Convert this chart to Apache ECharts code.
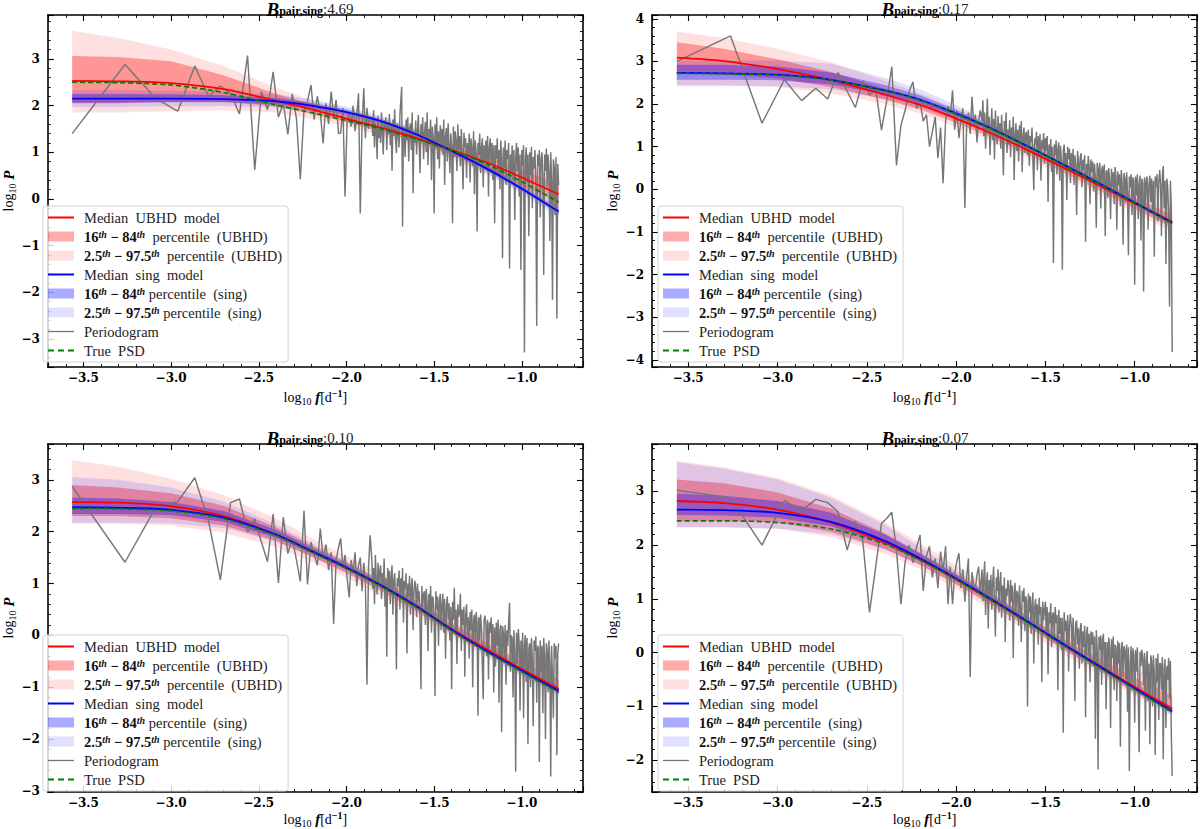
<!DOCTYPE html>
<html>
<head>
<meta charset="utf-8">
<script src="https://cdn.jsdelivr.net/npm/echarts@6/dist/echarts.min.js"></script>
<style>
  html, body { margin: 0; padding: 0; background: #fff; }
  #chart { width: 1200px; height: 829px; }
</style>
</head>
<body>
<div id="chart"></div>
<script>
// log10 f of the periodogram points (shared by all four panels)
const perX = [
  -3.564,-3.263,-3.087,-2.962,-2.865,-2.786,-2.719,-2.661,-2.610,-2.564,
  -2.523,-2.485,-2.450,-2.418,-2.388,-2.360,-2.334,-2.309,-2.285,-2.263,
  -2.242,-2.222,-2.202,-2.184,-2.166,-2.149,-2.133,-2.117,-2.102,-2.087,
  -2.073,-2.059,-2.045,-2.033,-2.020,-2.008,-1.996,-1.984,-1.973,-1.962,
  -1.951,-1.941,-1.931,-1.921,-1.911,-1.901,-1.892,-1.883,-1.874,-1.865,
  -1.855,-1.850,-1.845,-1.840,-1.835,-1.830,-1.825,-1.820,-1.815,-1.810,
  -1.805,-1.800,-1.795,-1.790,-1.785,-1.780,-1.775,-1.770,-1.765,-1.760,
  -1.755,-1.750,-1.745,-1.740,-1.735,-1.730,-1.725,-1.720,-1.715,-1.710,
  -1.705,-1.700,-1.695,-1.690,-1.685,-1.680,-1.675,-1.670,-1.665,-1.660,
  -1.655,-1.650,-1.645,-1.640,-1.635,-1.630,-1.625,-1.620,-1.615,-1.610,
  -1.605,-1.600,-1.595,-1.590,-1.585,-1.580,-1.575,-1.570,-1.565,-1.560,
  -1.555,-1.550,-1.545,-1.540,-1.535,-1.530,-1.525,-1.520,-1.515,-1.510,
  -1.505,-1.500,-1.495,-1.490,-1.485,-1.480,-1.475,-1.470,-1.465,-1.460,
  -1.455,-1.450,-1.445,-1.440,-1.435,-1.430,-1.425,-1.420,-1.415,-1.410,
  -1.405,-1.400,-1.395,-1.390,-1.385,-1.380,-1.375,-1.370,-1.365,-1.360,
  -1.355,-1.350,-1.345,-1.340,-1.335,-1.330,-1.325,-1.320,-1.315,-1.310,
  -1.305,-1.300,-1.295,-1.290,-1.285,-1.280,-1.275,-1.270,-1.265,-1.260,
  -1.255,-1.250,-1.245,-1.240,-1.235,-1.230,-1.225,-1.220,-1.215,-1.210,
  -1.205,-1.200,-1.195,-1.190,-1.185,-1.180,-1.175,-1.170,-1.165,-1.160,
  -1.155,-1.150,-1.145,-1.140,-1.135,-1.130,-1.125,-1.120,-1.115,-1.110,
  -1.105,-1.100,-1.095,-1.090,-1.085,-1.080,-1.075,-1.070,-1.065,-1.060,
  -1.055,-1.050,-1.045,-1.040,-1.035,-1.030,-1.025,-1.020,-1.015,-1.010,
  -1.005,-1.000,-0.995,-0.990,-0.985,-0.980,-0.975,-0.970,-0.965,-0.960,
  -0.955,-0.950,-0.945,-0.940,-0.935,-0.930,-0.925,-0.920,-0.915,-0.910,
  -0.905,-0.900,-0.895,-0.890,-0.885,-0.880,-0.875,-0.870,-0.865,-0.860,
  -0.855,-0.850,-0.845,-0.840,-0.835,-0.830,-0.825,-0.820,-0.815,-0.810,
  -0.805,-0.800,-0.795,-0.790
];

// log10 P of the periodogram, one array per panel
const tlPer = [
  1.40,2.88,2.15,1.88,2.85,2.20,2.42,2.26,1.82,3.07,
  0.62,2.30,1.91,2.72,1.75,2.05,1.38,2.25,1.72,0.42,
  1.90,2.10,2.44,1.70,2.20,1.85,1.19,2.05,1.60,2.30,
  1.75,2.12,1.40,1.41,1.95,0.05,1.70,1.85,1.55,2.00,
  1.45,1.80,2.26,-0.31,1.60,2.37,1.30,1.95,1.50,1.75,
  1.72,1.35,1.90,1.10,1.62,1.48,0.85,1.78,1.30,1.55,
  1.20,1.85,1.42,0.95,1.68,1.52,1.75,1.05,1.60,1.38,
  1.82,1.15,1.55,0.60,1.70,1.35,1.92,1.28,0.98,1.62,
  1.45,1.10,1.80,2.10,2.40,-0.59,1.55,1.30,0.90,1.70,
  1.25,1.75,0.80,1.50,1.62,1.05,1.85,0.12,1.40,1.20,
  1.68,0.95,1.45,1.80,1.15,0.55,1.60,1.30,1.75,0.85,
  1.40,1.65,1.00,1.85,0.72,1.50,1.25,1.70,0.40,1.55,
  1.30,-0.31,1.60,1.10,1.75,0.85,1.45,0.65,1.58,1.20,
  1.50,0.95,1.70,0.30,1.35,1.52,0.80,1.62,1.15,0.55,
  1.40,1.10,-0.52,1.55,0.90,1.45,1.25,0.60,1.60,1.05,
  1.35,0.70,1.50,0.95,0.20,1.42,1.10,1.30,0.45,1.20,
  0.85,1.40,0.35,1.30,1.05,0.70,1.45,0.10,1.25,0.95,
  -0.70,1.20,0.95,1.40,0.55,1.10,1.30,0.25,1.15,0.80,
  1.25,0.60,1.35,0.05,1.10,1.30,0.75,1.20,0.40,1.15,
  -0.52,1.15,0.85,1.30,0.50,1.05,0.20,1.25,0.90,-1.27,
  1.10,0.65,1.25,0.30,1.05,0.85,1.20,-1.49,0.95,0.55,
  1.15,0.40,1.05,-0.45,0.90,1.20,0.60,1.10,0.05,0.95,
  -1.52,1.05,0.70,1.15,-3.29,0.85,1.10,0.35,0.95,-0.80,
  1.00,0.50,1.12,-0.20,0.90,0.65,1.05,0.30,-2.72,0.95,
  0.70,1.05,-0.40,0.85,1.00,0.45,-1.63,0.95,0.60,1.08,
  0.25,0.95,0.60,-0.90,1.00,0.40,-2.16,0.85,0.70,-0.35,
  0.90,-2.56,0.75,0.30
];
const trPer = [
  3.00,3.60,1.55,2.57,2.08,2.37,2.12,2.74,2.30,1.92,
  2.54,2.22,2.35,1.39,2.10,2.88,0.56,1.50,1.86,2.30,
  2.52,1.90,2.05,1.60,1.75,1.00,1.35,1.70,0.73,1.45,
  0.14,1.60,1.95,1.70,2.32,1.40,1.85,1.20,1.65,1.90,
  -0.44,1.55,1.80,1.30,2.17,1.50,1.75,1.10,1.60,1.85,
  1.60,2.09,1.25,1.80,0.95,1.55,2.13,1.30,1.70,0.80,
  1.45,1.90,1.15,1.65,0.70,1.85,1.35,1.05,1.72,1.20,
  1.55,0.95,1.75,1.10,0.33,1.60,1.25,1.80,0.85,1.40,
  1.05,1.62,0.75,1.45,1.15,1.70,0.22,1.30,1.55,0.90,
  1.40,0.65,1.50,1.05,1.60,0.40,1.25,1.45,0.85,1.30,
  1.35,0.80,1.40,0.55,1.25,1.10,1.45,0.70,-0.02,1.20,
  1.05,1.35,0.45,1.25,0.80,1.30,0.20,1.15,0.95,1.32,
  0.60,1.20,0.90,1.25,-0.30,1.05,0.75,1.18,0.40,1.00,
  -1.73,1.05,0.80,1.15,0.35,0.95,1.10,0.20,1.02,0.60,
  -1.89,0.90,1.05,0.45,0.85,-0.25,1.00,0.70,0.95,0.15,
  0.85,0.40,0.95,0.10,0.80,0.55,-0.60,0.90,0.65,0.30,
  0.75,0.85,0.05,0.70,0.45,0.80,-1.23,0.60,0.20,0.78,
  0.55,-0.35,0.70,0.40,0.65,-0.05,0.60,0.25,-0.90,0.62,
  0.50,0.10,0.62,-0.45,0.45,0.55,0.00,0.58,-1.10,0.40,
  0.45,-0.20,0.50,0.20,-0.70,0.48,0.05,0.40,-0.35,0.52,
  0.30,-0.95,0.42,0.10,0.35,-0.40,0.45,0.15,-1.30,0.38,
  0.25,-0.30,0.40,-0.10,-1.55,0.30,0.05,0.35,-0.60,0.28,
  0.20,-2.24,0.30,-0.15,0.35,-0.70,0.10,0.32,-1.20,0.25,
  0.15,-2.40,0.28,-0.40,0.20,0.30,-0.95,0.10,0.32,-0.30,
  0.25,-0.50,0.20,-1.58,0.30,0.05,0.35,-0.75,0.18,0.45,
  0.10,-1.10,0.30,0.55,-0.45,0.20,-1.75,0.25,0.05,-0.60,
  -2.75,0.20,-0.40,-3.82
];
const blPer = [
  2.87,1.41,2.47,2.58,3.04,2.20,1.07,2.56,2.63,1.99,
  2.25,1.80,1.42,2.34,1.01,2.28,1.58,1.87,1.45,1.04,
  2.40,0.98,1.80,1.55,1.35,2.06,1.50,1.75,1.26,1.60,
  0.22,1.45,1.70,1.87,1.30,1.55,1.10,0.73,1.45,1.20,
  1.60,0.95,1.35,1.50,0.85,1.40,1.05,-0.95,1.30,1.93,
  1.45,0.90,1.30,0.60,1.55,1.05,0.79,1.40,0.95,1.25,
  1.35,0.70,1.20,0.95,1.48,0.55,1.10,-0.41,1.30,0.85,
  1.25,0.60,1.15,1.35,0.40,1.05,1.20,0.75,-0.66,1.10,
  0.95,1.25,0.50,1.10,0.80,1.30,0.25,1.05,0.90,1.20,
  -0.35,1.00,0.75,1.15,0.40,0.95,1.10,0.10,0.85,1.05,
  0.90,0.35,1.00,0.65,0.85,0.15,-1.04,0.95,0.55,0.80,
  0.85,0.20,0.90,0.60,-0.30,0.80,0.45,0.95,0.05,0.75,
  0.70,0.35,-1.17,0.85,0.50,0.75,-0.20,0.65,0.80,0.10,
  0.60,0.80,0.05,0.70,-0.45,0.55,0.75,0.30,0.62,-0.10,
  0.55,-1.04,0.65,0.30,0.92,0.10,0.50,-0.55,0.60,0.35,
  0.45,0.80,-0.30,0.50,0.20,0.55,-0.80,0.40,0.60,0.00,
  0.35,-0.45,0.45,0.10,0.50,-1.00,0.30,0.40,-0.20,0.45,
  0.25,-1.55,0.35,-0.10,0.40,0.15,-0.60,-1.23,0.30,0.38,
  0.20,-0.40,0.30,-0.85,0.25,0.05,0.35,-0.30,0.22,-1.10,
  0.15,-0.60,0.25,-0.20,0.30,-1.30,0.10,0.20,-1.87,0.18,
  0.05,-0.50,0.20,-0.95,0.10,-0.20,0.25,0.63,-0.70,0.00,
  -0.05,-1.20,0.10,-0.30,-2.63,0.05,-0.55,0.12,-0.15,-1.45,
  -0.10,-0.70,0.05,-1.60,-0.20,0.00,-0.90,-0.05,-2.10,-0.25,
  -0.15,-1.00,-0.05,-0.45,-1.75,-0.10,-0.30,-0.02,-1.30,-0.20,
  -0.25,-2.44,-0.10,-0.70,-0.20,-1.50,-0.05,-0.40,-2.00,-0.15,
  -0.30,-1.10,-0.10,-0.55,-2.72,-0.20,-0.85,-1.60,-0.15,-0.45,
  -0.20,-2.31,-0.35,-0.16
];
const brPer = [
  3.02,2.88,2.00,2.83,2.64,2.85,2.79,2.62,1.91,2.45,
  2.10,0.75,1.60,2.40,2.50,2.61,1.90,0.90,1.70,2.00,
  1.67,1.95,2.19,1.15,1.80,1.98,1.40,1.75,1.20,1.88,
  1.50,1.98,0.90,1.60,0.90,1.45,1.70,1.85,1.20,1.55,
  0.95,1.40,1.75,-0.45,1.50,1.25,1.20,1.45,1.60,1.10,
  1.55,0.95,1.40,1.70,0.70,1.30,1.50,0.45,1.35,1.05,
  1.45,0.80,1.30,1.60,0.95,0.30,1.40,1.15,1.55,0.75,
  1.30,1.50,0.65,1.25,0.90,1.40,0.20,1.20,1.05,1.35,
  1.20,0.60,1.35,0.95,1.25,-0.10,1.10,1.30,0.70,1.15,
  1.10,0.50,1.25,0.85,0.20,1.15,0.95,1.20,0.40,1.05,
  0.95,-1.00,1.10,0.75,1.05,0.35,0.90,1.12,-0.20,0.85,
  1.00,0.45,0.90,0.15,1.02,0.70,0.85,-0.55,0.95,0.60,
  0.80,0.95,0.30,0.85,-0.40,0.75,0.55,0.92,0.10,0.70,
  0.75,0.20,0.85,0.55,0.70,-0.70,0.80,0.35,0.65,0.05,
  0.65,-1.49,0.75,0.40,0.60,0.10,0.70,-0.35,0.55,0.72,
  0.50,0.05,0.65,0.30,-0.90,0.55,0.60,0.15,0.45,-0.30,
  0.45,0.55,-0.20,0.40,0.10,0.50,-1.20,0.35,0.48,-0.05,
  0.35,-0.55,0.40,0.15,0.38,-0.25,0.30,-1.60,0.42,0.05,
  -2.17,0.30,0.05,0.32,-0.60,0.25,0.35,-0.30,0.20,-1.05,
  0.20,-0.35,0.28,0.10,-1.40,0.25,-0.10,0.30,-0.70,0.15,
  0.10,-0.90,0.22,-0.20,0.18,-1.75,0.05,0.20,-0.45,0.12,
  0.05,-0.50,0.15,-1.10,0.10,-2.20,-0.20,0.12,-0.65,0.08,
  -0.05,-1.30,0.05,-0.35,0.10,-0.80,-1.85,0.02,-0.25,0.06,
  -0.10,-0.60,0.00,-1.45,-0.15,0.03,-0.90,-0.20,-1.70,-0.05,
  -0.15,-1.00,-0.05,-0.40,-1.90,-0.10,-0.55,-0.02,-1.25,-0.20,
  -0.20,-0.70,-0.08,-1.98,-0.30,-0.12,-1.40,-0.25,-0.50,-0.10,
  -0.85,-0.15,-1.50,-2.29
];

// log10 f where the model curves were read
const modelX = [-3.564, -3.3, -3.0, -2.7, -2.4, -2.2, -2.0, -1.8, -1.6, -1.4, -1.2, -1.0, -0.79];

// top left, B = 4.69
const tlRedMed  = [2.53, 2.52, 2.48, 2.35, 2.10, 1.92, 1.72, 1.52, 1.30, 1.05, 0.78, 0.46, 0.10];
const tlRedLo68 = [2.05, 2.05, 2.08, 2.08, 1.98, 1.82, 1.64, 1.44, 1.21, 0.94, 0.64, 0.30, -0.10];
const tlRedHi68 = [3.06, 3.04, 2.95, 2.65, 2.25, 2.04, 1.82, 1.62, 1.40, 1.16, 0.92, 0.63, 0.32];
const tlRedLo95 = [1.85, 1.85, 1.88, 1.90, 1.85, 1.72, 1.55, 1.36, 1.13, 0.85, 0.54, 0.18, -0.25];
const tlRedHi95 = [3.60, 3.45, 3.20, 2.85, 2.38, 2.12, 1.90, 1.70, 1.48, 1.25, 1.02, 0.75, 0.48];
const tlBlueMed  = [2.15, 2.15, 2.15, 2.14, 2.09, 2.00, 1.86, 1.66, 1.38, 1.03, 0.65, 0.22, -0.27];
const tlBlueLo68 = [2.06, 2.06, 2.07, 2.07, 2.03, 1.94, 1.81, 1.61, 1.33, 0.98, 0.60, 0.17, -0.33];
const tlBlueHi68 = [2.25, 2.25, 2.24, 2.22, 2.16, 2.06, 1.92, 1.72, 1.44, 1.09, 0.71, 0.28, -0.21];
const tlBlueLo95 = [1.97, 1.97, 1.98, 1.99, 1.96, 1.88, 1.75, 1.55, 1.27, 0.92, 0.54, 0.11, -0.40];
const tlBlueHi95 = [2.33, 2.33, 2.32, 2.30, 2.24, 2.13, 1.98, 1.78, 1.50, 1.15, 0.77, 0.34, -0.14];
const tlTrue     = [2.50, 2.49, 2.44, 2.28, 2.01, 1.85, 1.68, 1.50, 1.28, 1.04, 0.75, 0.37, -0.07];

// top right, B = 0.17
const trRedMed  = [3.09, 3.01, 2.82, 2.56, 2.22, 1.98, 1.66, 1.31, 0.92, 0.51, 0.09, -0.33, -0.76];
const trRedLo68 = [2.72, 2.70, 2.60, 2.40, 2.10, 1.87, 1.56, 1.21, 0.82, 0.40, -0.03, -0.46, -0.90];
const trRedHi68 = [3.45, 3.30, 3.05, 2.75, 2.36, 2.09, 1.76, 1.41, 1.03, 0.63, 0.22, -0.19, -0.60];
const trRedLo95 = [2.45, 2.45, 2.40, 2.25, 2.00, 1.78, 1.47, 1.12, 0.73, 0.31, -0.12, -0.55, -1.00];
const trRedHi95 = [3.70, 3.55, 3.30, 2.98, 2.55, 2.25, 1.90, 1.52, 1.13, 0.72, 0.32, -0.08, -0.48];
const trBlueMed  = [2.73, 2.72, 2.69, 2.57, 2.32, 2.10, 1.78, 1.42, 1.01, 0.58, 0.14, -0.31, -0.79];
const trBlueLo68 = [2.57, 2.57, 2.56, 2.46, 2.23, 2.02, 1.71, 1.36, 0.96, 0.54, 0.10, -0.35, -0.83];
const trBlueHi68 = [2.92, 2.92, 2.88, 2.74, 2.45, 2.20, 1.86, 1.49, 1.07, 0.63, 0.18, -0.27, -0.75];
const trBlueLo95 = [2.42, 2.42, 2.42, 2.35, 2.12, 1.92, 1.63, 1.30, 0.91, 0.49, 0.06, -0.40, -0.88];
const trBlueHi95 = [3.02, 3.02, 3.02, 2.95, 2.62, 2.34, 1.98, 1.58, 1.14, 0.69, 0.24, -0.22, -0.70];
const trTrue     = [2.72, 2.71, 2.68, 2.56, 2.31, 2.09, 1.77, 1.41, 1.00, 0.57, 0.13, -0.32, -0.80];

// bottom left, B = 0.10
const blRedMed  = [2.57, 2.56, 2.49, 2.30, 1.94, 1.62, 1.30, 0.95, 0.55, 0.12, -0.27, -0.65, -1.03];
const blRedLo68 = [2.30, 2.30, 2.26, 2.12, 1.82, 1.52, 1.20, 0.85, 0.46, 0.04, -0.35, -0.74, -1.10];
const blRedHi68 = [2.90, 2.85, 2.74, 2.50, 2.08, 1.74, 1.41, 1.06, 0.67, 0.25, -0.14, -0.50, -0.85];
const blRedLo95 = [2.15, 2.15, 2.12, 1.98, 1.70, 1.42, 1.11, 0.76, 0.37, -0.04, -0.42, -0.80, -1.15];
const blRedHi95 = [3.38, 3.25, 3.02, 2.70, 2.25, 1.88, 1.53, 1.18, 0.80, 0.40, 0.03, -0.32, -0.62];
const blBlueMed  = [2.47, 2.46, 2.42, 2.27, 1.94, 1.63, 1.31, 0.96, 0.56, 0.11, -0.30, -0.68, -1.07];
const blBlueLo68 = [2.34, 2.34, 2.32, 2.19, 1.88, 1.58, 1.27, 0.92, 0.52, 0.07, -0.34, -0.72, -1.11];
const blBlueHi68 = [2.66, 2.64, 2.57, 2.40, 2.03, 1.70, 1.37, 1.01, 0.61, 0.16, -0.25, -0.63, -1.02];
const blBlueLo95 = [2.17, 2.17, 2.16, 2.07, 1.80, 1.52, 1.22, 0.87, 0.47, 0.02, -0.39, -0.77, -1.16];
const blBlueHi95 = [3.05, 3.00, 2.85, 2.58, 2.14, 1.78, 1.43, 1.07, 0.66, 0.21, -0.20, -0.58, -0.97];
const blTrue     = [2.45, 2.44, 2.40, 2.25, 1.92, 1.61, 1.29, 0.94, 0.54, 0.09, -0.32, -0.70, -1.10];

// bottom right, B = 0.07
const brRedMed  = [2.82, 2.78, 2.66, 2.42, 2.05, 1.73, 1.36, 0.97, 0.57, 0.15, -0.24, -0.64, -1.04];
const brRedLo68 = [2.45, 2.45, 2.42, 2.25, 1.93, 1.63, 1.27, 0.88, 0.48, 0.06, -0.33, -0.74, -1.10];
const brRedHi68 = [3.22, 3.15, 2.98, 2.68, 2.22, 1.86, 1.47, 1.08, 0.68, 0.27, -0.10, -0.47, -0.80];
const brRedLo95 = [2.33, 2.33, 2.30, 2.15, 1.84, 1.55, 1.19, 0.80, 0.40, -0.02, -0.41, -0.80, -1.15];
const brRedHi95 = [3.57, 3.45, 3.25, 2.92, 2.42, 2.03, 1.62, 1.22, 0.82, 0.42, 0.05, -0.30, -0.63];
const brBlueMed  = [2.66, 2.65, 2.60, 2.43, 2.08, 1.75, 1.38, 0.99, 0.58, 0.16, -0.25, -0.66, -1.09];
const brBlueLo68 = [2.56, 2.55, 2.51, 2.35, 2.02, 1.70, 1.34, 0.95, 0.54, 0.12, -0.29, -0.70, -1.13];
const brBlueHi68 = [2.96, 2.92, 2.82, 2.60, 2.20, 1.84, 1.45, 1.05, 0.63, 0.20, -0.21, -0.62, -1.05];
const brBlueLo95 = [2.33, 2.33, 2.31, 2.20, 1.92, 1.63, 1.28, 0.90, 0.49, 0.07, -0.34, -0.75, -1.18];
const brBlueHi95 = [3.54, 3.42, 3.22, 2.88, 2.38, 1.96, 1.53, 1.11, 0.68, 0.25, -0.16, -0.57, -1.00];
const brTrue     = [2.45, 2.45, 2.42, 2.30, 2.02, 1.72, 1.36, 0.97, 0.56, 0.14, -0.27, -0.68, -1.11];

const bayesFactors = ['4.69', '0.17', '0.10', '0.07'];
const yRanges = [[-3.60, 3.94], [-4.17, 4.09], [-3.02, 3.69], [-2.59, 3.88]];
const xRange = [-3.703, -0.651];

const panels = [
  { per: tlPer, rm: tlRedMed, rl68: tlRedLo68, rh68: tlRedHi68, rl95: tlRedLo95, rh95: tlRedHi95,
    bm: tlBlueMed, bl68: tlBlueLo68, bh68: tlBlueHi68, bl95: tlBlueLo95, bh95: tlBlueHi95, tr: tlTrue },
  { per: trPer, rm: trRedMed, rl68: trRedLo68, rh68: trRedHi68, rl95: trRedLo95, rh95: trRedHi95,
    bm: trBlueMed, bl68: trBlueLo68, bh68: trBlueHi68, bl95: trBlueLo95, bh95: trBlueHi95, tr: trTrue },
  { per: blPer, rm: blRedMed, rl68: blRedLo68, rh68: blRedHi68, rl95: blRedLo95, rh95: blRedHi95,
    bm: blBlueMed, bl68: blBlueLo68, bh68: blBlueHi68, bl95: blBlueLo95, bh95: blBlueHi95, tr: blTrue },
  { per: brPer, rm: brRedMed, rl68: brRedLo68, rh68: brRedHi68, rl95: brRedLo95, rh95: brRedHi95,
    bm: brBlueMed, bl68: brBlueLo68, bh68: brBlueHi68, bl95: brBlueLo95, bh95: brBlueHi95, tr: brTrue }
];

const grids = [
  { left: 37, top: 15, width: 546, height: 352 },
  { left: 652, top: 15, width: 546, height: 352 },
  { left: 37, top: 444, width: 546, height: 352 },
  { left: 652, top: 444, width: 546, height: 352 }
];

const FONT = 'Liberation Serif';
const TICKFONT = 'DejaVu Serif';
const NB = '\u00a0';

const N_RM = 'Median UBHD model';
const N_R68 = '16th-84th percentile (UBHD)';
const N_R95 = '2.5th-97.5th percentile (UBHD)';
const N_BM = 'Median sing model';
const N_B68 = '16th-84th percentile (sing)';
const N_B95 = '2.5th-97.5th percentile (sing)';
const N_PER = 'Periodogram';
const N_TRUE = 'True PSD';

const legendText = {};
legendText[N_RM] = '{t|Median' + NB + NB + 'UBHD' + NB + NB + 'model}';
legendText[N_R68] = '{b|16}{u|th}{b|' + NB + '\u2212' + NB + '84}{u|th}{t|' + NB + NB + 'percentile' + NB + NB + '(UBHD)}';
legendText[N_R95] = '{b|2.5}{u|th}{b|' + NB + '\u2212' + NB + '97.5}{u|th}{t|' + NB + NB + 'percentile' + NB + NB + '(UBHD)}';
legendText[N_BM] = '{t|Median' + NB + NB + 'sing' + NB + NB + 'model}';
legendText[N_B68] = '{b|16}{u|th}{b|' + NB + '\u2212' + NB + '84}{u|th}{t|' + NB + 'percentile' + NB + NB + '(sing)}';
legendText[N_B95] = '{b|2.5}{u|th}{b|' + NB + '\u2212' + NB + '97.5}{u|th}{t|' + NB + 'percentile' + NB + NB + '(sing)}';
legendText[N_PER] = '{t|Periodogram}';
legendText[N_TRUE] = '{t|True' + NB + NB + 'PSD}';

const lineIcon = 'path://M0,0H26V2H0Z';
const dashIcon = 'path://M0,0H6V2H0Z M10,0H16V2H10Z M20,0H26V2H20Z';
const legendItems = [
  { name: N_RM, icon: lineIcon },
  { name: N_R68, icon: 'rect' },
  { name: N_R95, icon: 'rect' },
  { name: N_BM, icon: lineIcon },
  { name: N_B68, icon: 'rect' },
  { name: N_B95, icon: 'rect' },
  { name: N_PER, icon: 'path://M0,0H26V1.3H0Z' },
  { name: N_TRUE, icon: dashIcon }
];

function fmtX(v) {
  if (Math.abs(v * 2 - Math.round(v * 2)) > 1e-6) return '';
  return (v < 0 ? '\u2212' : '') + Math.abs(v).toFixed(1);
}
function fmtY(v) {
  if (Math.abs(v - Math.round(v)) > 1e-6) return '';
  const r = Math.round(v);
  return (r < 0 ? '\u2212' : '') + Math.abs(r);
}

const nameRich = {
  n: { fontFamily: FONT, fontSize: 14, lineHeight: 18, color: '#000' },
  s: { fontFamily: FONT, fontSize: 10, lineHeight: 10, verticalAlign: 'bottom', color: '#000' },
  p: { fontFamily: FONT, fontSize: 10, fontWeight: 'bold', lineHeight: 10, verticalAlign: 'top', color: '#000' },
  i: { fontFamily: FONT, fontSize: 15, fontStyle: 'italic', fontWeight: 'bold', lineHeight: 18, color: '#000' }
};

function bandSeries(name, color, lo, hi, gi, z) {
  return {
    type: 'custom', name: name, xAxisIndex: gi * 2, yAxisIndex: gi * 2,
    z: z, silent: true, clip: true,
    itemStyle: { color: color },
    encode: { x: 0, y: [1, 2] },
    data: modelX.map((x, k) => [x, lo[k], hi[k]]),
    renderItem: function (params, api) {
      if (params.dataIndex !== 0) return null;
      const top = modelX.map((x, k) => api.coord([x, hi[k]]));
      const bot = modelX.map((x, k) => api.coord([x, lo[k]])).reverse();
      return { type: 'polygon', shape: { points: top.concat(bot) }, style: { fill: color } };
    }
  };
}

function lineSeries(name, xs, ys, gi, color, width, z, dashed) {
  return {
    type: 'line', name: name, xAxisIndex: gi * 2, yAxisIndex: gi * 2,
    z: z, silent: true, symbol: 'none', smooth: xs === modelX ? 0.3 : false,
    itemStyle: { color: color },
    lineStyle: { color: color, width: width, type: dashed ? [5, 3] : 'solid' },
    data: xs.map((x, k) => [x, ys[k]])
  };
}

const xAxes = [], yAxes = [], series = [], legends = [], graphics = [];
const axisTick = { inside: true, length: 6, lineStyle: { color: '#000', width: 1.1 } };
const minorTick = { show: true, splitNumber: 5, length: 3, lineStyle: { color: '#000', width: 0.9 } };
const axisLine = { onZero: false, lineStyle: { color: '#000', width: 1.6 } };
const labelStyle = { fontFamily: TICKFONT, fontSize: 12, fontWeight: 'bold', color: '#000' };

grids.forEach((g, i) => {
  const p = panels[i];
  const yr = yRanges[i];
  xAxes.push({
    gridIndex: i, type: 'value', position: 'bottom', min: xRange[0], max: xRange[1],
    splitNumber: 6, minInterval: 0.5, maxInterval: 0.5,
    axisLine, axisTick, minorTick, splitLine: { show: false },
    axisLabel: Object.assign({ margin: 5, formatter: fmtX }, labelStyle),
    name: '{n|log}{s|10}{i|' + NB + 'f}{n|[d}{p|\u22121}{n|]}',
    nameLocation: 'middle', nameGap: i < 2 ? 21 : 18,
    nameTextStyle: { rich: nameRich }
  });
  xAxes.push({
    gridIndex: i, type: 'value', position: 'top', min: xRange[0], max: xRange[1],
    splitNumber: 6, minInterval: 0.5, maxInterval: 0.5,
    axisLine, axisTick, minorTick, splitLine: { show: false }, axisLabel: { show: false }
  });
  yAxes.push({
    gridIndex: i, type: 'value', position: 'left', min: yr[0], max: yr[1],
    splitNumber: 7, minInterval: 1, maxInterval: 1,
    axisLine, axisTick, minorTick, splitLine: { show: false },
    axisLabel: Object.assign({ margin: 8, formatter: fmtY }, labelStyle),
    name: '{n|log}{s|10}{i|' + NB + 'P}', nameLocation: 'middle', nameGap: 22, nameRotate: 90,
    nameTextStyle: { rich: nameRich }
  });
  yAxes.push({
    gridIndex: i, type: 'value', position: 'right', min: yr[0], max: yr[1],
    splitNumber: 7, minInterval: 1, maxInterval: 1,
    axisLine, axisTick, minorTick, splitLine: { show: false }, axisLabel: { show: false }
  });

  series.push(bandSeries(N_R95, 'rgba(255,0,0,0.12)', p.rl95, p.rh95, i, 1));
  series.push(bandSeries(N_R68, 'rgba(255,0,0,0.33)', p.rl68, p.rh68, i, 1));
  series.push(bandSeries(N_B95, 'rgba(0,0,255,0.12)', p.bl95, p.bh95, i, 1));
  series.push(bandSeries(N_B68, 'rgba(0,0,255,0.33)', p.bl68, p.bh68, i, 1));
  series.push(lineSeries(N_PER, perX, p.per, i, '#767676', 1.45, 2, false));
  series.push(lineSeries(N_RM, modelX, p.rm, i, '#ff0000', 1.8, 3, false));
  series.push(lineSeries(N_BM, modelX, p.bm, i, '#0000ff', 1.8, 3, false));
  series.push(lineSeries(N_TRUE, modelX, p.tr, i, '#008000', 1.7, 4, true));

  legends.push({
    orient: 'vertical', left: g.left + 6, top: g.top + g.height - 161,
    itemWidth: 26, itemHeight: 10, itemGap: 4, padding: [4, 6, 4, 5],
    backgroundColor: 'rgba(255,255,255,0.8)', borderColor: '#d4d4d4', borderWidth: 1, borderRadius: 3,
    selectedMode: false, data: legendItems,
    itemStyle: { borderWidth: 0 },
    formatter: n => legendText[n],
    textStyle: {
      fontFamily: FONT, fontSize: 14.5, lineHeight: 15, color: '#222', padding: [0, 0, 0, 5],
      rich: {
        t: { fontFamily: FONT, fontSize: 14.5, lineHeight: 15, color: '#222' },
        b: { fontFamily: FONT, fontSize: 14.5, fontWeight: 'bold', lineHeight: 15, color: '#111' },
        u: { fontFamily: FONT, fontSize: 10, fontWeight: 'bold', fontStyle: 'italic', lineHeight: 9, verticalAlign: 'top', color: '#111' }
      }
    }
  });

  graphics.push({
    type: 'text', x: g.left + g.width / 2, y: g.top - 6,
    style: {
      text: '{b|B}{s|pair,sing}{n|:' + bayesFactors[i] + '}',
      align: 'center', verticalAlign: 'middle',
      rich: {
        b: { fontFamily: FONT, fontSize: 19, fontStyle: 'italic', fontWeight: 'bold', lineHeight: 16, fill: '#000' },
        s: { fontFamily: FONT, fontSize: 12, fontWeight: 'bold', lineHeight: 8, verticalAlign: 'bottom', fill: '#000' },
        n: { fontFamily: FONT, fontSize: 15, lineHeight: 16, fill: '#222' }
      }
    }
  });
});

const chart = echarts.init(document.getElementById('chart'), null, { renderer: 'svg' });
chart.setOption({
  animation: false,
  backgroundColor: '#fff',
  grid: grids,
  xAxis: xAxes,
  yAxis: yAxes,
  legend: legends,
  graphic: graphics,
  series: series
});
</script>
</body>
</html>
